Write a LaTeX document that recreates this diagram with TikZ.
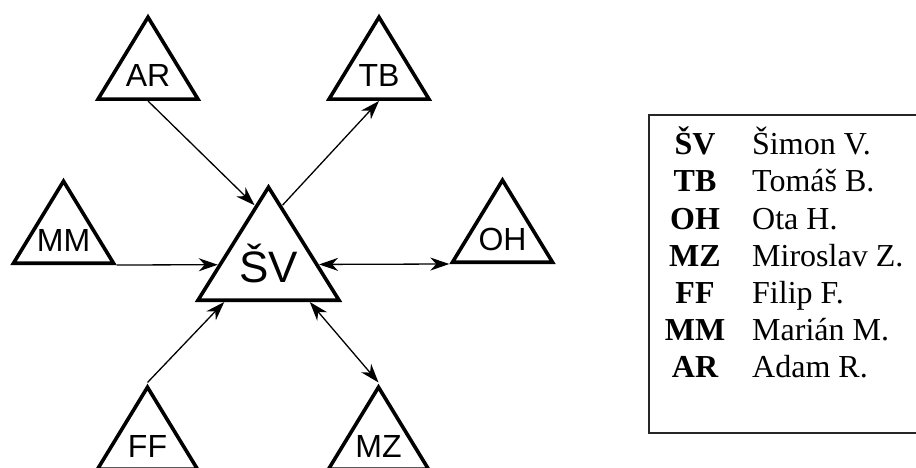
\documentclass[tikz,border=0pt]{standalone}
\usepackage{fontspec}
\setmainfont{Liberation Serif}
\newfontfamily\trifont{Liberation Sans}
\usetikzlibrary{shapes.geometric,arrows.meta,calc}

\tikzset{
	tri/.style={draw,line width=3.6pt,isosceles triangle,shape border rotate=90,isosceles triangle stretches,inner sep=0pt,minimum width=100pt,minimum height=82pt,anchor=lower side},
	bigtri/.style={tri,minimum width=141pt,minimum height=113pt},
	lbl/.style={anchor=base,inner sep=0pt,font=\trifont\fontsize{32}{32}\selectfont},
	biglbl/.style={lbl,font=\trifont\fontsize{44}{44}\selectfont},
	tip/.tip={Stealth[length=19pt,width=13pt,inset=6pt]},
	link/.style={line width=1.3pt,-tip},
	twoway/.style={line width=1.3pt,tip-tip},
	abbr/.style={anchor=base,inner sep=0pt,font=\bfseries\fontsize{32}{32}\selectfont},
	who/.style={anchor=base west,inner sep=0pt,font=\fontsize{32}{32}\selectfont}
}

\begin{document}
\begin{tikzpicture}[x=1pt,y=-1pt]
	\useasboundingbox (0,0) rectangle (916,468);
	\clip (0,0) rectangle (916,468);
	\node[tri] (AR) at (148,101) {};
	\node[tri] (TB) at (379,101) {};
	\node[tri] (MM) at (63.5,265) {};
	\node[tri] (OH) at (502.5,264) {};
	\node[tri] (FF) at (147.5,471) {};
	\node[tri] (MZ) at (378.5,471) {};
	\node[bigtri] (SV) at (268.5,302) {};
	\node[lbl] (ARt) at ([yshift=14pt]AR.lower side) {AR};
	\node[lbl] (TBt) at ([yshift=14pt]TB.lower side) {TB};
	\node[lbl] (MMt) at ([yshift=14pt]MM.lower side) {MM};
	\node[lbl] (OHt) at ([yshift=14pt]OH.lower side) {OH};
	\node[lbl] (FFt) at ([yshift=14pt]FF.lower side) {FF};
	\node[lbl] (MZt) at ([yshift=14pt]MZ.lower side) {MZ};
	\node[biglbl] (SVt) at ([yshift=20pt]SV.lower side) {ŠV};
	\draw[link] (AR.lower side) -- ($(SV.apex)!0.19!(SV.left corner)$);
	\draw[link] ($(SV.apex)!0.19!(SV.right corner)$) -- (TB.lower side);
	\draw[link] (MM.right corner) -- (intersection of MM.right corner--OH.left corner and SV.apex--SV.left corner);
	\draw[twoway] (intersection of MM.right corner--OH.left corner and SV.apex--SV.right corner) -- (OH.left corner);
	\draw[link] (FF.apex) -- ($(SV.left corner)!0.2!(SV.right corner)$);
	\draw[twoway] ($(SV.left corner)!0.78!(SV.right corner)$) -- (MZ.apex);
	\draw[line width=1.2pt,black!85] (990,115) -| (649,433) -- (990,433);
	\node[abbr] (kSV) at (695,155) {ŠV};
	\node[abbr] (kTB) at (695,192) {TB};
	\node[abbr] (kOH) at (695,229) {OH};
	\node[abbr] (kMZ) at (695,266) {MZ};
	\node[abbr] (kFF) at (695,303) {FF};
	\node[abbr] (kMM) at (695,340) {MM};
	\node[abbr] (kAR) at (695,377) {AR};
	\node[who] (nSV) at (752,155) {Šimon V.};
	\node[who] (nTB) at (752,192) {Tomáš B.};
	\node[who] (nOH) at (752,229) {Ota H.};
	\node[who] (nMZ) at (752,266) {Miroslav Z.};
	\node[who] (nFF) at (752,303) {Filip F.};
	\node[who] (nMM) at (752,340) {Marián M.};
	\node[who] (nAR) at (752,377) {Adam R.};
\end{tikzpicture}
\end{document}
